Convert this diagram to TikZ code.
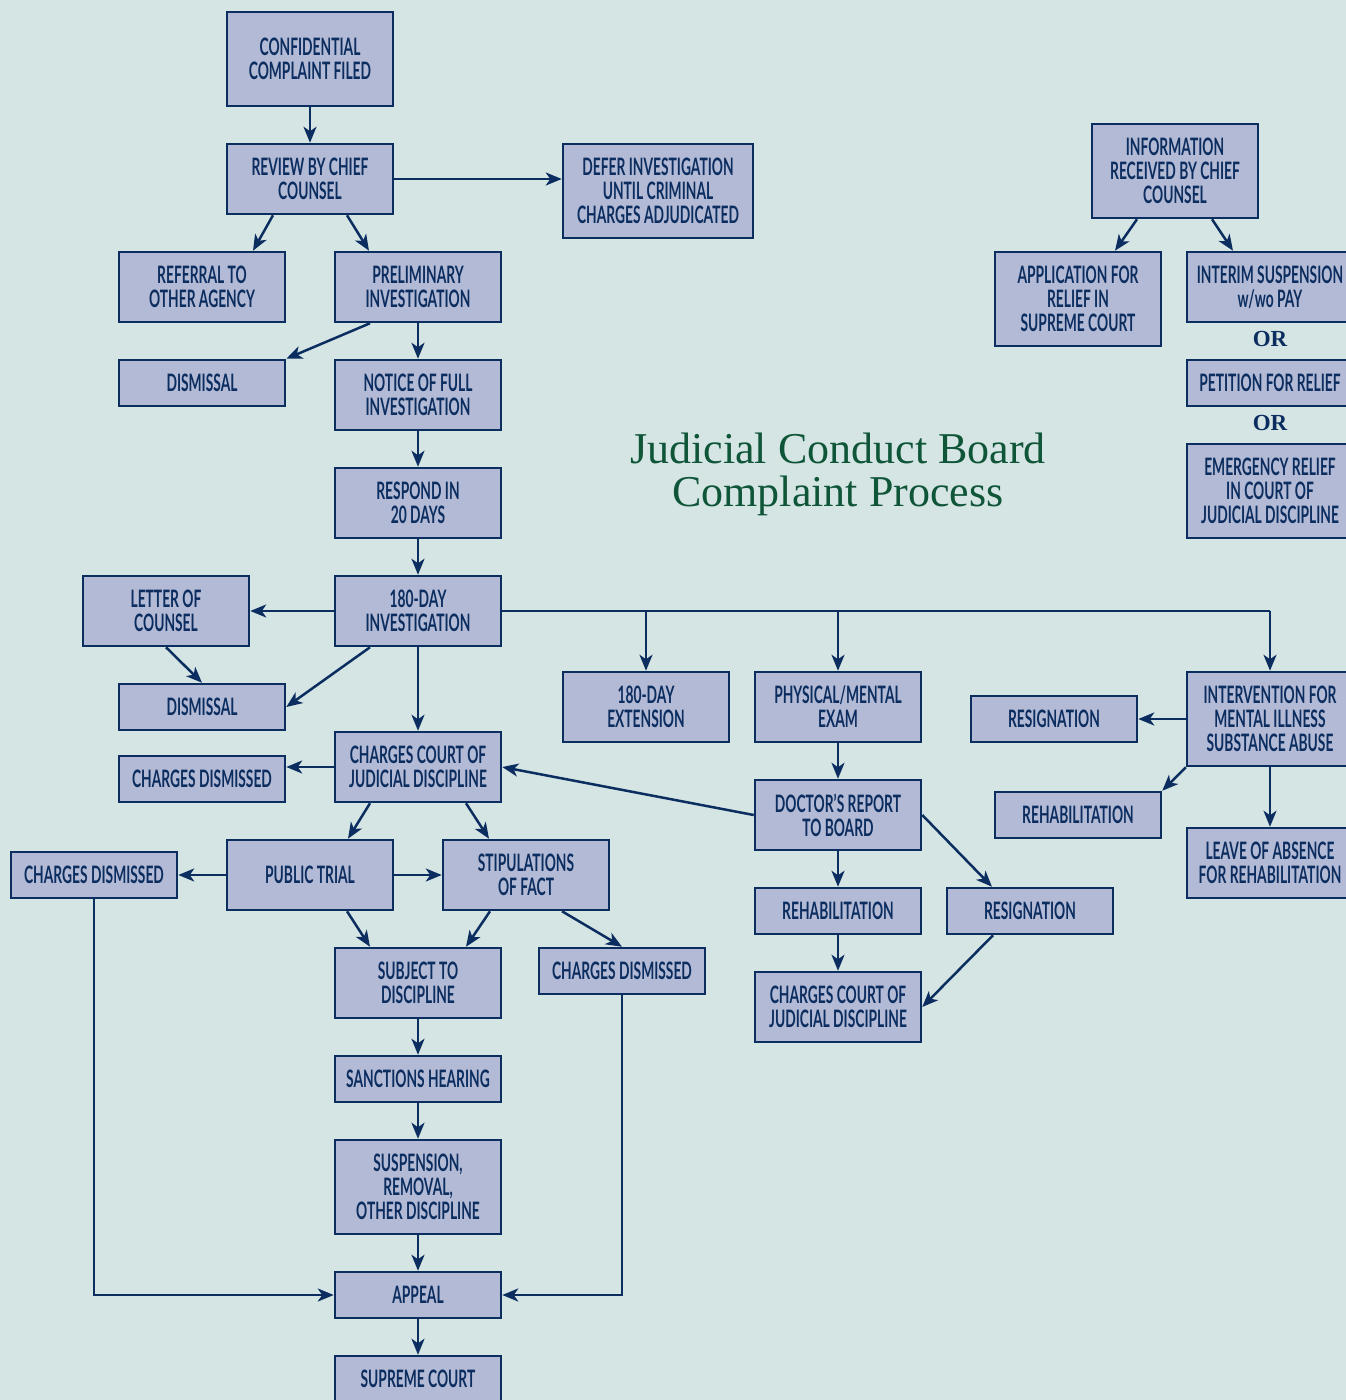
\documentclass[tikz,border=0pt]{standalone}
\usepackage{fontspec}
\usetikzlibrary{arrows.meta}
\newfontfamily\boxfont{Lato}[FakeStretch=0.575]
\newfontfamily\titlefont{Liberation Serif}
\definecolor{navy}{HTML}{0C2D5F}
\definecolor{boxfill}{HTML}{B2BAD5}
\definecolor{bgcol}{HTML}{D5E5E4}
\definecolor{titlegreen}{HTML}{0F5538}
\tikzset{
  box/.style={draw=navy, line width=2.5pt, fill=boxfill, text=navy, inner sep=0pt, align=center,
    font=\boxfont\bfseries\fontsize{24}{24}\selectfont, minimum width=166pt},
  bA/.style={box, minimum height=46pt},
  bB/.style={box, minimum height=70pt},
  bC/.style={box, minimum height=94pt},
  arr/.style={draw=navy, line width=2.5pt, -{Stealth[length=16pt,width=13pt,inset=4.5pt]}},
  ln/.style={draw=navy, line width=2.5pt},
  ortext/.style={text=navy, font=\titlefont\bfseries\fontsize{23}{24}\selectfont},
}
\begin{document}
\begin{tikzpicture}[x=1pt,y=-1pt]
\useasboundingbox (0,0) rectangle (1346,1400);
\clip (0,0) rectangle (1346,1400);
\fill[bgcol] (0,0) rectangle (1346,1400);

% title
\node[text=titlegreen, font=\titlefont\fontsize{44}{43}\selectfont, align=center] (title) at (838,474) {Judicial Conduct Board\\Complaint Process};

% left column
\node[bC] (conf) at (310,59) {CONFIDENTIAL\\COMPLAINT FILED};
\node[bB] (review) at (310,179) {REVIEW BY CHIEF\\COUNSEL};
\node[bC, minimum width=190pt] (defer) at (658,191) {DEFER INVESTIGATION\\UNTIL CRIMINAL\\CHARGES ADJUDICATED};
\node[bB] (referral) at (202,287) {REFERRAL TO\\OTHER AGENCY};
\node[bB] (prelim) at (418,287) {PRELIMINARY\\INVESTIGATION};
\node[bA] (dism1) at (202,383) {DISMISSAL};
\node[bB] (notice) at (418,395) {NOTICE OF FULL\\INVESTIGATION};
\node[bB] (respond) at (418,503) {RESPOND IN\\20 DAYS};
\node[bB] (inv) at (418,611) {180-DAY\\INVESTIGATION};
\node[bB] (letter) at (166,611) {LETTER OF\\COUNSEL};
\node[bA] (dism2) at (202,707) {DISMISSAL};
\node[bB] (ccjd) at (418,767) {CHARGES COURT OF\\JUDICIAL DISCIPLINE};
\node[bA] (cdis1) at (202,779) {CHARGES DISMISSED};
\node[bB] (trial) at (310,875) {PUBLIC TRIAL};
\node[bB] (stip) at (526,875) {STIPULATIONS\\OF FACT};
\node[bA] (cdis2) at (94,875) {CHARGES DISMISSED};
\node[bB] (subject) at (418,983) {SUBJECT TO\\DISCIPLINE};
\node[bA] (cdis3) at (622,971) {CHARGES DISMISSED};
\node[bA] (sanctions) at (418,1079) {SANCTIONS HEARING};
\node[bC] (susp) at (418,1187) {SUSPENSION,\\REMOVAL,\\OTHER DISCIPLINE};
\node[bA] (appeal) at (418,1295) {APPEAL};
\node[bA] (supreme) at (418,1379) {SUPREME COURT};

% middle
\node[bB] (ext) at (646,707) {180-DAY\\EXTENSION};
\node[bB] (phys) at (838,707) {PHYSICAL/MENTAL\\EXAM};
\node[bB] (doctor) at (838,815) {DOCTOR’S REPORT\\TO BOARD};
\node[bA] (rehab1) at (838,911) {REHABILITATION};
\node[bA] (resign1) at (1030,911) {RESIGNATION};
\node[bB] (ccjd2) at (838,1007) {CHARGES COURT OF\\JUDICIAL DISCIPLINE};

% right
\node[bC] (interv) at (1270,719) {INTERVENTION FOR\\MENTAL ILLNESS\\SUBSTANCE ABUSE};
\node[bA] (resign2) at (1054,719) {RESIGNATION};
\node[bA] (rehab2) at (1078,815) {REHABILITATION};
\node[bB] (leave) at (1270,863) {LEAVE OF ABSENCE\\FOR REHABILITATION};

% top right
\node[bC] (info) at (1175,171) {INFORMATION\\RECEIVED BY CHIEF\\COUNSEL};
\node[bC] (appl) at (1078,299) {APPLICATION FOR\\RELIEF IN\\SUPREME COURT};
\node[bB] (interim) at (1270,287) {INTERIM SUSPENSION\\w/wo PAY};
\node[ortext] (or1) at (1270,339) {OR};
\node[bA] (petition) at (1270,383) {PETITION FOR RELIEF};
\node[ortext] (or2) at (1270,423) {OR};
\node[bC] (emerg) at (1270,491) {EMERGENCY RELIEF\\IN COURT OF\\JUDICIAL DISCIPLINE};

% connectors
\draw[arr] (conf) -- (review);
\draw[arr] (review.east) -- (review.east -| defer.west);
\draw[arr] ([xshift=-37pt]review.south) -- ([xshift=51pt]referral.north);
\draw[arr] ([xshift=37pt]review.south) -- ([xshift=-49pt]prelim.north);
\draw[arr] ([xshift=-48pt]prelim.south) -- (dism1.north east);
\draw[arr] (prelim) -- (notice);
\draw[arr] (notice) -- (respond);
\draw[arr] (respond) -- (inv);
\draw[arr] (inv) -- (letter);
\draw[arr] (letter.south) -- (dism2.north);
\draw[arr] ([xshift=-48pt]inv.south) -- (dism2.east);
\draw[arr] (inv) -- (ccjd);
\draw[arr] (ccjd.west) -- (ccjd.west -| cdis1.east);
\draw[arr] ([xshift=-48pt]ccjd.south) -- ([xshift=38pt]trial.north);
\draw[arr] ([xshift=48pt]ccjd.south) -- ([xshift=-37pt]stip.north);
\draw[arr] (trial) -- (cdis2);
\draw[arr] (trial) -- (stip);
\draw[arr] ([xshift=37pt]trial.south) -- ([xshift=-48pt]subject.north);
\draw[arr] ([xshift=-36pt]stip.south) -- ([xshift=48pt]subject.north);
\draw[arr] ([xshift=36pt]stip.south) -- (cdis3.north);
\draw[arr] (subject) -- (sanctions);
\draw[arr] (sanctions) -- (susp);
\draw[arr] (susp) -- (appeal);
\draw[arr] (appeal) -- (supreme);
\draw[arr] (cdis2.south) |- (appeal.west);
\draw[arr] (cdis3.south) |- (appeal.east);

\coordinate (j1) at (ext.north |- inv.east);
\coordinate (j2) at (phys.north |- inv.east);
\coordinate (j3) at (interv.north |- inv.east);
\draw[ln] (inv.east) -- (j3);
\draw[arr] (j1) -- (ext.north);
\draw[arr] (j2) -- (phys.north);
\draw[arr] (j3) -- (interv.north);

\draw[arr] (phys) -- (doctor);
\draw[arr] (doctor.west) -- (ccjd.east);
\draw[arr] (doctor) -- (rehab1);
\draw[arr] (rehab1) -- (ccjd2);
\draw[arr] (doctor.east) -- ([xshift=-38pt]resign1.north);
\draw[arr] ([xshift=-37pt]resign1.south) -- (ccjd2.east);

\draw[arr] (interv.west) -- (interv.west -| resign2.east);
\draw[arr] (interv.south west) -- (rehab2.north east);
\draw[arr] (interv) -- (leave);

\draw[arr] ([xshift=-38pt]info.south) -- ([xshift=37pt]appl.north);
\draw[arr] ([xshift=37pt]info.south) -- ([xshift=-37pt]interim.north);
\end{tikzpicture}
\end{document}
